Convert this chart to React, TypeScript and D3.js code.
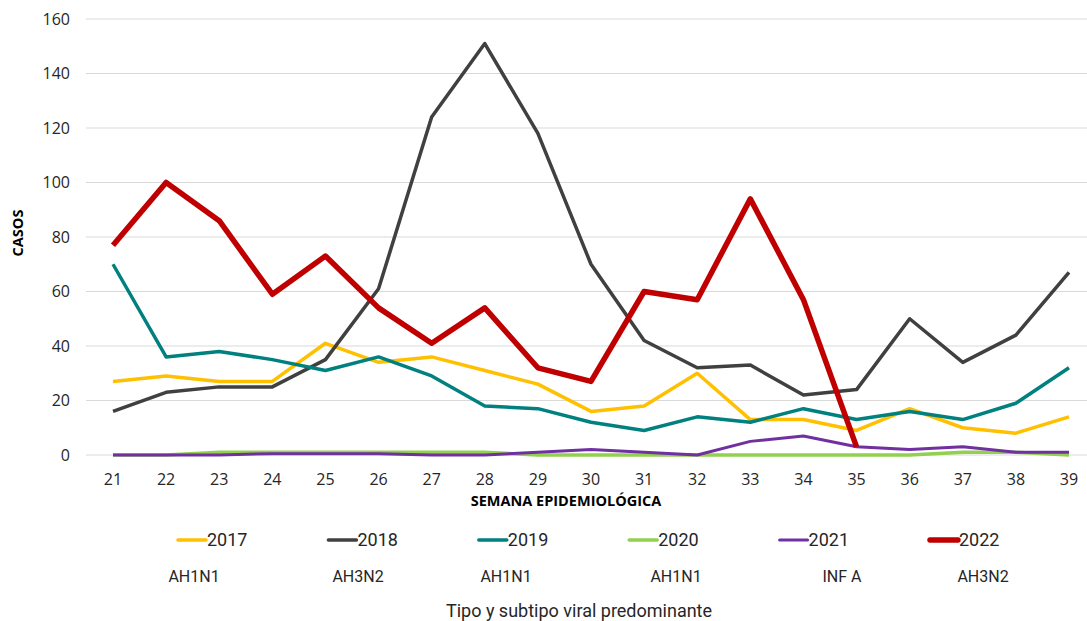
import { useEffect, useRef } from "react";
import * as d3 from "d3";

const weeks = [21, 22, 23, 24, 25, 26, 27, 28, 29, 30, 31, 32, 33, 34, 35, 36, 37, 38, 39];
const yTicks = [0, 20, 40, 60, 80, 100, 120, 140, 160];

const v2017 = [27, 29, 27, 27, 41, 34, 36, 31, 26, 16, 18, 30, 13, 13, 9, 17, 10, 8, 14];
const v2018 = [16, 23, 25, 25, 35, 61, 124, 151, 118, 70, 42, 32, 33, 22, 24, 50, 34, 44, 67];
const v2019 = [70, 36, 38, 35, 31, 36, 29, 18, 17, 12, 9, 14, 12, 17, 13, 16, 13, 19, 32];
const v2020 = [0, 0, 1, 1, 1, 1, 1, 1, 0, 0, 0, 0, 0, 0, 0, 0, 1, 1, 0];
const v2021 = [0, 0, 0, 0.5, 0.5, 0.5, 0, 0, 1, 2, 1, 0, 5, 7, 3, 2, 3, 1, 1];
const v2022 = [77, 100, 86, 59, 73, 54, 41, 54, 32, 27, 60, 57, 94, 57, 3];

const seriesNames = ["2017", "2018", "2019", "2020", "2021", "2022"];
const subtypes = ["AH1N1", "AH3N2", "AH1N1", "AH1N1", "INF A", "AH3N2"];

export default function App() {
  const svgRef = useRef(null);

  useEffect(() => {
    const width = 1087;
    const height = 621;
    const svg = d3.select(svgRef.current);
    svg.selectAll("*").remove();
    svg.attr("width", width).attr("height", height);

    const font = "'Open Sans', sans-serif";
    const narrow = "'Liberation Sans Narrow', 'Roboto', sans-serif";

    const series = [
      { name: seriesNames[0], values: v2017, color: "#FFC000", w: 3.5 },
      { name: seriesNames[1], values: v2018, color: "#404040", w: 3.5 },
      { name: seriesNames[2], values: v2019, color: "#00807F", w: 3.5 },
      { name: seriesNames[3], values: v2020, color: "#92D050", w: 3.5 },
      { name: seriesNames[4], values: v2021, color: "#7030A0", w: 3 },
      { name: seriesNames[5], values: v2022, color: "#C00000", w: 5.5 },
    ];

    const x = d3.scalePoint<number>()
      .domain(weeks)
      .range([113, 1069]);

    const y = d3.scaleLinear()
      .domain([0, 160])
      .range([455, 19]);

    // grid
    svg.append("g")
      .selectAll("line")
      .data(yTicks)
      .join("line")
      .attr("x1", 86)
      .attr("x2", 1087)
      .attr("y1", d => y(d))
      .attr("y2", d => y(d))
      .attr("stroke", "#d9d9d9")
      .attr("stroke-width", 1);

    svg.append("g")
      .selectAll("text")
      .data(yTicks)
      .join("text")
      .attr("x", 70)
      .attr("y", d => y(d))
      .attr("dy", "0.35em")
      .attr("text-anchor", "end")
      .attr("font-family", font)
      .attr("font-size", 16)
      .attr("fill", "#262626")
      .text(d => d);

    svg.append("g")
      .selectAll("text")
      .data(weeks)
      .join("text")
      .attr("x", d => x(d)!)
      .attr("y", 485)
      .attr("text-anchor", "middle")
      .attr("font-family", font)
      .attr("font-size", 16)
      .attr("fill", "#262626")
      .text(d => d);

    svg.append("text")
      .attr("transform", "translate(23,233) rotate(-90)")
      .attr("text-anchor", "middle")
      .attr("font-family", font)
      .attr("font-weight", "bold")
      .attr("font-size", 14.5)
      .attr("fill", "#000")
      .text("CASOS");

    svg.append("text")
      .attr("x", 566)
      .attr("y", 506)
      .attr("text-anchor", "middle")
      .attr("font-family", font)
      .attr("font-weight", "bold")
      .attr("font-size", 14.5)
      .attr("fill", "#000")
      .text("SEMANA EPIDEMIOLÓGICA");

    const line = d3.line<number>()
      .x((_, i) => x(weeks[i])!)
      .y(d => y(d));

    svg.append("g")
      .selectAll("path")
      .data(series)
      .join("path")
      .attr("fill", "none")
      .attr("stroke", d => d.color)
      .attr("stroke-width", d => d.w)
      .attr("stroke-linejoin", "round")
      .attr("d", d => line(d.values));

    // legend
    const legendX = d3.scalePoint<string>()
      .domain(seriesNames)
      .range([178, 930]);

    const lg = svg.append("g")
      .selectAll("g")
      .data(series)
      .join("g")
      .attr("transform", d => `translate(${legendX(d.name)},540)`);
    lg.append("line")
      .attr("x1", 0)
      .attr("x2", 28)
      .attr("stroke", d => d.color)
      .attr("stroke-width", d => d.w)
      .attr("stroke-linecap", "round");
    lg.append("text")
      .attr("x", 29)
      .attr("dy", "0.35em")
      .attr("font-family", narrow)
      .attr("font-size", 18)
      .attr("fill", "#262626")
      .text(d => d.name);

    const subX = [194, 358, 506, 676, 842, 983];
    svg.append("g")
      .selectAll("text")
      .data(subtypes)
      .join("text")
      .attr("x", (_, i) => subX[i])
      .attr("y", 582)
      .attr("text-anchor", "middle")
      .attr("font-family", narrow)
      .attr("font-size", 16)
      .attr("fill", "#262626")
      .text(d => d);

    svg.append("text")
      .attr("x", 579)
      .attr("y", 617)
      .attr("text-anchor", "middle")
      .attr("font-family", narrow)
      .attr("font-size", 18)
      .attr("fill", "#262626")
      .text("Tipo y subtipo viral predominante");
  }, []);

  return <svg ref={svgRef} style={{ position: "absolute", left: 0, top: 0 }}></svg>;
}
